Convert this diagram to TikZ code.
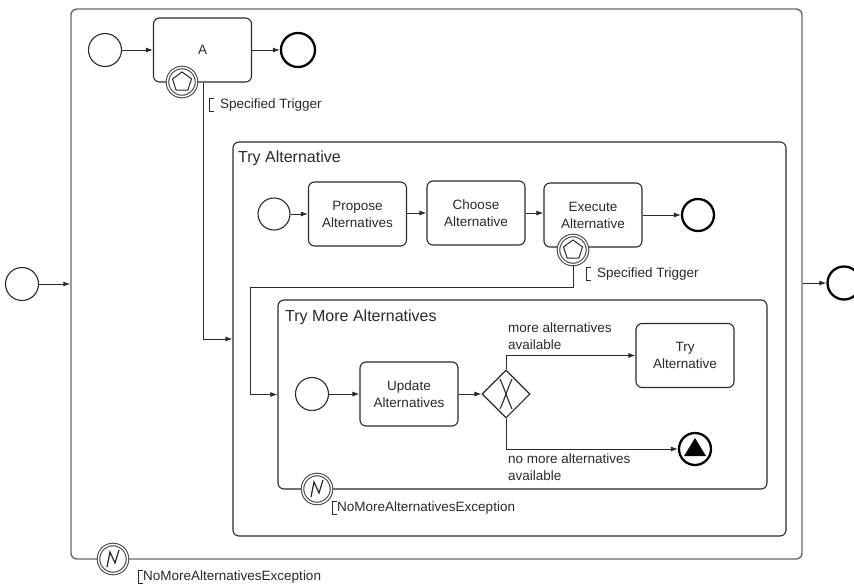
\documentclass[tikz,border=0pt]{standalone}
\usepackage{fontspec}
\setmainfont{Liberation Sans}
\usetikzlibrary{arrows.meta,shapes.geometric}
\definecolor{ink}{HTML}{2A2A2A}
\definecolor{frame}{HTML}{6A6A6A}
\begin{document}
\begin{tikzpicture}[x=1pt,y=-1pt,
  every node/.style={font=\fontsize{13.5}{17}\selectfont, text=ink},
  task/.style={draw=ink, line width=1.1pt, rounded corners=6pt, minimum width=98pt,
    minimum height=64pt, align=center, inner sep=2pt, fill=white},
  subproc/.style={draw=ink, line width=1.1pt, rounded corners=6pt, inner sep=0pt},
  startev/.style={circle, draw=ink, line width=1.1pt, minimum size=33pt, inner sep=0pt, fill=white},
  endev/.style={circle, draw=black, line width=2.3pt, minimum size=32pt, inner sep=0pt, fill=white},
  boundev/.style={circle, draw=ink!85, double=white, double distance=1.4pt, line width=1.1pt,
    fill=white, minimum size=29pt, inner sep=0pt},
  pent/.style={path picture={\draw[ink, line width=1pt, shift={(path picture bounding box.center)}]
    (-90:10) -- (-18:10) -- (54:10) -- (126:10) -- (198:10) -- cycle;}},
  errsym/.style={path picture={\draw[ink, line width=1.2pt, shift={(path picture bounding box.center)}]
    (-6,8) -- (-3,-7) -- (2,4) -- (6,-9);}},
  flow/.style={draw=ink, line width=0.9pt, -{Latex[length=7pt,width=5pt]}},
  note/.style={anchor=west, inner sep=0pt},
  title/.style={font=\fontsize{16}{19}\selectfont, anchor=west, inner sep=0pt},
  bracket/.style={draw=ink, line width=0.8pt},
]
\path[fill=white, use as bounding box] (0,0) rectangle (854,584);

% nested process containers
\node[subproc, draw=frame, line width=1.4pt, minimum width=731pt, minimum height=550pt] (outer) at (436.5,284) {};
\node[subproc, minimum width=553pt, minimum height=394pt] (tryaltbox) at (509.5,339) {};
\node[subproc, minimum width=489pt, minimum height=189pt] (trymore) at (522.5,394.5) {};
\node[title] (ttlA) at (238,158) {Try Alternative};
\node[title] (ttlB) at (285,317) {Try More Alternatives};

% top level flow
\node[startev] (s0) at (22,284) {};
\node[endev, minimum size=33pt] (e0) at (844,283) {};
\node[startev] (s1) at (105,50) {};
\node[task] (A) at (202.5,50) {A};
\node[endev, minimum size=34pt] (e1) at (298,50) {};

% Try Alternative flow
\node[startev, minimum size=32pt] (s2) at (274,214) {};
\node[task] (prop) at (357.5,214) {Propose\\Alternatives};
\node[task] (choose) at (476,213) {Choose\\Alternative};
\node[task] (exec) at (593,215) {Execute\\Alternative};
\node[endev] (e2) at (698,215) {};

% Try More Alternatives flow
\node[startev] (s3) at (312,394) {};
\node[task] (upd) at (409,394) {Update\\Alternatives};
\node[diamond, draw=ink, line width=1.1pt, minimum width=48pt, minimum height=48pt, inner sep=0pt,
  fill=white, path picture={\draw[ink, line width=1.1pt, shift={(path picture bounding box.center)}]
    (-6,-15) .. controls (-1,-4) and (1,4) .. (6,15)
    (6,-15) .. controls (1,-4) and (-1,4) .. (-6,15);}] (gw) at (506,394) {};
\node[task] (tryalt) at (685,355.5) {Try\\Alternative};
\node[endev, path picture={\fill[black, shift={(path picture bounding box.center)}]
    (0,-11) -- (11,7) -- (-11,7) -- cycle;}] (e3) at (695,449) {};

% attached boundary events
\node[boundev, pent] (bA) at (182,82) {};
\node[boundev, pent] (bE) at (573,250) {};
\node[boundev, errsym] (bN1) at (317,489) {};
\node[boundev, errsym] (bN0) at (113,559) {};

% sequence flows
\draw[flow] (s0) -- (s0 -| outer.west);
\draw[flow] (outer.east |- e0) -- (e0);
\draw[flow] (s1) -- (A);
\draw[flow] (A) -- (e1);
\draw[flow] (s2) -- (prop);
\draw[flow] (prop.east |- choose) -- (choose);
\draw[flow] (choose) -- (choose -| exec.west);
\draw[flow] (exec) -- (e2);
\draw[flow] (s3) -- (upd);
\draw[flow] (upd) -- (gw);
\draw[flow] (gw.north) |- (tryalt.west);
\draw[flow] (gw.south) |- (e3.west);

% exception flows out of the boundary events
\coordinate (tA) at (203,83);
\draw[flow] (tA) |- (tryaltbox.west);
\coordinate (bend) at (250,287);
\draw[flow] (bE.south) |- (bend) |- (trymore.west);

% gateway conditions
\node[note, align=left] (l1) at (508,336.5) {more alternatives\\available};
\node[note, align=left] (l2) at (508,467) {no more alternatives\\available};

% text annotations
\node[note] (n1) at (220,105) {Specified Trigger};
\draw[bracket] ([xshift=-6pt]n1.north west) -- ([xshift=-11pt]n1.north west)
  -- ([xshift=-11pt]n1.south west) -- ([xshift=-6pt]n1.south west);
\node[note] (n2) at (597,274) {Specified Trigger};
\draw[bracket] ([xshift=-6pt]n2.north west) -- ([xshift=-11pt]n2.north west)
  -- ([xshift=-11pt]n2.south west) -- ([xshift=-6pt]n2.south west);
\node[note] (n3) at (337,508) {NoMoreAlternativesException};
\draw[bracket] (n3.north west) -- ([xshift=-5pt]n3.north west)
  -- ([xshift=-5pt]n3.south west) -- (n3.south west);
\node[note] (n4) at (143,577) {NoMoreAlternativesException};
\draw[bracket] (n4.north west) -- ([xshift=-5pt]n4.north west)
  -- ([xshift=-5pt]n4.south west) -- (n4.south west);
\end{tikzpicture}
\end{document}
